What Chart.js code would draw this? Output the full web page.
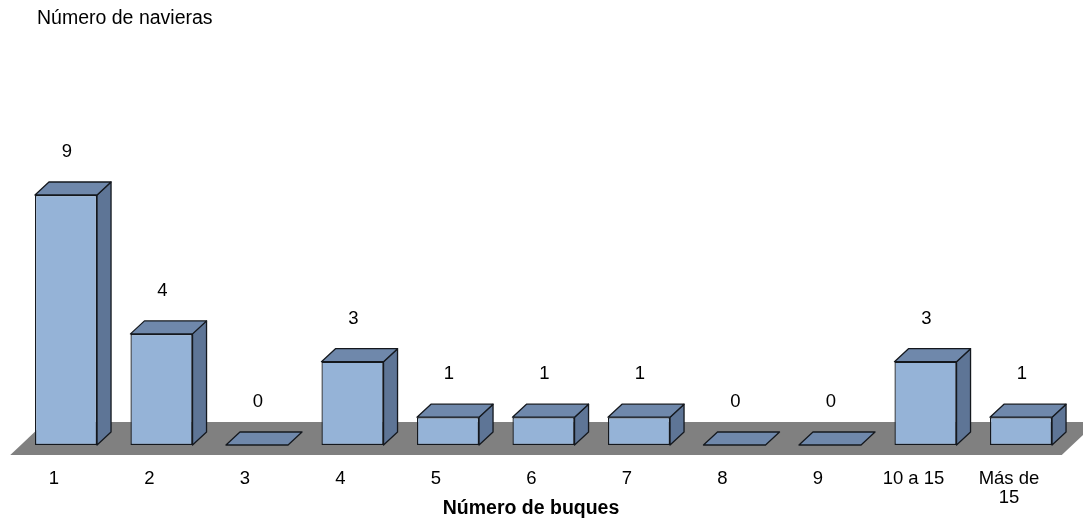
<!DOCTYPE html>
<html lang="es">
<head>
<meta charset="utf-8">
<title>Número de navieras por número de buques</title>
<script src="https://cdn.jsdelivr.net/npm/chart.js@4/dist/chart.umd.min.js"></script>
<style>
  html, body { margin: 0; padding: 0; background: #ffffff; }
  #wrap { position: relative; width: 1083px; height: 521px; }
</style>
</head>
<body>
<div id="wrap"><canvas id="chart"></canvas></div>
<script>
// Fleet size categories (number of ships per shipping company)
const categories = ['1', '2', '3', '4', '5', '6', '7', '8', '9', '10 a 15', ['Más de', '15']];
// Number of shipping companies in each category
const navieras = [9, 4, 0, 3, 1, 1, 1, 0, 0, 3, 1];

const yAxisTitle = 'Número de navieras';
const xAxisTitle = 'Número de buques';

const FONT = "'Liberation Sans', Arial, sans-serif";
const COLORS = {
  front: '#95B3D7',
  top: '#6F88AB',
  side: '#5E7596',
  edge: '#14181e',
  floor: '#808080',
  text: '#000000'
};
// oblique depth of the 3D boxes and of the floor slab
const DEPTH = { dx: 14, dy: 13 };
const FLOOR = { front: 10, dx: 35, dy: 33 };

function poly(ctx, pts, fill, stroke) {
  ctx.beginPath();
  ctx.moveTo(pts[0][0], pts[0][1]);
  for (let i = 1; i < pts.length; i++) ctx.lineTo(pts[i][0], pts[i][1]);
  ctx.closePath();
  ctx.fillStyle = fill;
  ctx.fill();
  if (stroke) {
    ctx.lineWidth = 1.3;
    ctx.lineJoin = 'round';
    ctx.strokeStyle = stroke;
    ctx.stroke();
  }
}

// gray floor under the boxes
const floorPlugin = {
  id: 'floor3d',
  beforeDatasetsDraw(chart) {
    const { ctx, chartArea } = chart;
    const base = chart.scales.y.getPixelForValue(0);
    const yF = base + FLOOR.front;
    const xL = chartArea.left - 8, xR = chartArea.right - 7;
    ctx.save();
    poly(ctx, [
      [xL, yF], [xR, yF],
      [xR + FLOOR.dx, yF - FLOOR.dy], [xL + FLOOR.dx, yF - FLOOR.dy]
    ], COLORS.floor, null);
    ctx.restore();
  }
};

// top and side faces of each box, plus value labels
const boxPlugin = {
  id: 'box3d',
  afterDatasetsDraw(chart) {
    const { ctx } = chart;
    const meta = chart.getDatasetMeta(0);
    const values = chart.data.datasets[0].data;
    ctx.save();
    meta.data.forEach((bar, i) => {
      const p = bar.getProps(['x', 'y', 'base', 'width'], true);
      const l = p.x - p.width / 2, r = p.x + p.width / 2;
      const t = Math.min(p.y, p.base), b = p.base;
      const { dx, dy } = DEPTH;
      if (b - t > 0.5) {
        poly(ctx, [[r, t], [r + dx, t - dy], [r + dx, b - dy], [r, b]], COLORS.side, COLORS.edge);
      }
      poly(ctx, [[l, t], [l + dx, t - dy], [r + dx, t - dy], [r, t]], COLORS.top, COLORS.edge);

      ctx.fillStyle = COLORS.text;
      ctx.font = '18.5px ' + FONT;
      ctx.textAlign = 'center';
      ctx.textBaseline = 'middle';
      ctx.fillText(String(values[i]), p.x + 1, t - 43);
    });
    ctx.restore();
  }
};

// axis titles
const titlesPlugin = {
  id: 'axisTitles',
  afterDraw(chart) {
    const { ctx } = chart;
    ctx.save();
    ctx.fillStyle = COLORS.text;
    ctx.textBaseline = 'middle';
    ctx.textAlign = 'left';
    ctx.font = '19.5px ' + FONT;
    ctx.fillText(yAxisTitle, 37, 19);
    ctx.textAlign = 'center';
    ctx.font = 'bold 19.5px ' + FONT;
    ctx.fillText(xAxisTitle, 531, 509);
    ctx.restore();
  }
};

new Chart(document.getElementById('chart'), {
  type: 'bar',
  data: {
    labels: categories,
    datasets: [{
      data: navieras,
      backgroundColor: COLORS.front,
      borderColor: COLORS.edge,
      borderWidth: 1.3,
      borderSkipped: false,
      categoryPercentage: 1,
      barPercentage: 0.65
    }]
  },
  options: {
    responsive: true,
    maintainAspectRatio: false,
    animation: false,
    devicePixelRatio: 1,
    layout: { padding: { left: 18.25, right: 14.25, top: 167.2, bottom: 0 } },
    plugins: {
      legend: { display: false },
      title: { display: false },
      tooltip: { enabled: false }
    },
    scales: {
      x: {
        offset: true,
        grid: { display: false },
        border: { display: false },
        afterFit(scale) { scale.height = 76; },
        ticks: {
          color: COLORS.text,
          font: { family: FONT, size: 18.5, lineHeight: 1.05 },
          padding: 16,
          labelOffset: -12,
          maxRotation: 0,
          autoSkip: false
        }
      },
      y: {
        display: false,
        min: 0,
        max: 10
      }
    }
  },
  plugins: [floorPlugin, boxPlugin, titlesPlugin]
});
</script>
</body>
</html>
